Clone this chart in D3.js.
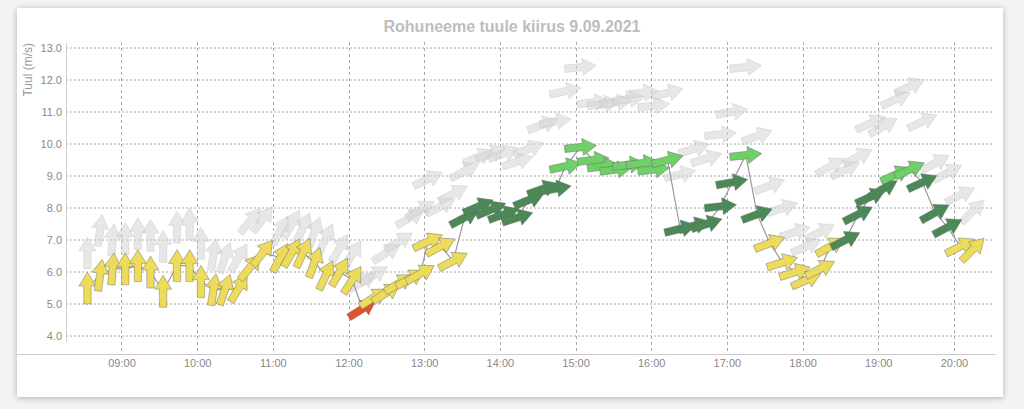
<!DOCTYPE html>
<html>
<head>
<meta charset="utf-8">
<script src="https://d3js.org/d3.v7.min.js"></script>
<style>
  body { margin: 0; background: #f3f3f3; width: 1024px; height: 409px; overflow: hidden; }
  .card { position: absolute; left: 17px; top: 8px; width: 986px; height: 389px; background: #fff;
          box-shadow: 0 1px 6px rgba(0,0,0,0.28); }
  svg { position: absolute; left: 0; top: 0; }
  text { font-family: "Liberation Sans", Arial, sans-serif; }
</style>
</head>
<body>
<div class="card"></div>
<svg id="chart" width="1024" height="409"></svg>
<script>
var times = ["08:33","08:43","08:53","09:03","09:13","09:23","09:33","09:44","09:54","10:03",
  "10:13","10:22","10:33","10:42","10:52","11:06","11:15","11:24","11:33","11:42",
  "11:53","12:03","12:11","12:20","12:30","12:40","12:49","12:57","13:03","13:13",
  "13:23","13:32","13:43","13:53","14:03","14:14","14:23","14:34","14:44","14:52",
  "15:04","15:14","15:22","15:32","15:42","15:53","16:02","16:13","16:23","16:34",
  "16:44","16:55","17:04","17:15","17:24","17:34","17:44","17:54","18:03","18:14",
  "18:22","18:34","18:44","18:54","19:04","19:14","19:25","19:35","19:45","19:55",
  "20:05","20:15"];

// mean wind (m/s)
var windSpeed = [5.5,5.9,6.1,6.1,6.2,6.0,5.4,6.2,6.2,5.7,
  5.45,5.45,5.5,6.15,6.6,6.45,6.6,6.6,6.3,5.9,
  6.0,5.75,4.85,5.2,5.35,5.65,5.8,5.95,6.95,6.8,
  6.35,7.7,8.05,7.95,7.8,7.7,8.25,8.6,8.6,9.3,
  9.9,9.5,9.3,9.2,9.35,9.4,9.2,9.5,7.35,7.45,
  7.5,8.05,8.8,9.65,7.8,6.9,6.3,6.0,5.75,6.1,
  6.8,7.0,7.8,8.35,8.6,9.05,9.2,8.8,7.85,7.4,
  6.8,6.7];

// gusts (m/s)
var gustSpeed = [6.6,7.3,7.0,7.05,7.2,7.15,6.8,7.4,7.5,6.9,
  6.55,6.45,6.45,7.6,7.65,7.3,7.5,7.4,7.25,7.05,
  6.75,6.55,5.7,5.9,6.6,6.95,7.7,7.95,8.9,8.05,
  8.45,9.15,9.6,9.7,9.7,9.45,9.85,10.6,10.7,11.65,
  12.4,11.3,11.25,11.3,11.4,11.6,11.2,11.6,9.05,9.85,
  9.55,10.3,11.0,12.4,10.25,8.7,8.0,7.25,6.8,7.25,
  9.3,9.2,9.6,10.65,10.55,11.4,11.8,10.7,9.4,9.1,
  8.4,7.9];

// heading the arrow points to, degrees clockwise from up
var direction = [0,8,5,0,0,0,0,0,0,0,
  9,19,31,39,38,28,30,25,20,25,
  30,33,58,58,58,58,60,60,65,62,
  62,62,66,67,70,72,68,70,80,78,
  84,83,83,83,83,83,83,75,76,73,
  72,84,80,84,70,69,72,72,66,63,
  60,63,63,66,60,65,65,65,61,62,
  63,45];

var yTicks = [4,5,6,7,8,9,10,11,12,13];

var parseTime = d3.timeParse("%H:%M");
var svg = d3.select("#chart");

var x = d3.scaleTime()
  .domain([parseTime("08:16"), parseTime("20:31")])
  .range([66, 993]);
var y = d3.scaleLinear().domain([4, 13]).range([336, 48]);

// colour of the mean wind arrow by speed
function windColor(v) {
  if (v < 5) return "#e2522f";
  if (v < 7) return "#eddb5c";
  if (v < 9) return "#4b8a56";
  return "#6fcf68";
}

// block arrow pointing up, centred on 0,0
var arrowPath = "M0,-16 L8.5,-2 L3.7,-2 L3.7,16 L-3.7,16 L-3.7,-2 L-8.5,-2 Z";

var data = times.map(function(t, i) {
  return { t: parseTime(t), wind: windSpeed[i], gust: gustSpeed[i], dir: direction[i] };
});

// title
svg.append("text")
  .attr("x", 512).attr("y", 32)
  .attr("text-anchor", "middle")
  .style("font-size", "16px").style("font-weight", "bold")
  .style("fill", "#bdbdbd")
  .text("Rohuneeme tuule kiirus 9.09.2021");

// grid
var grid = svg.append("g");
grid.selectAll(".hgrid").data(yTicks).enter().append("line")
  .attr("x1", 66).attr("x2", 993)
  .attr("y1", function(d) { return y(d); }).attr("y2", function(d) { return y(d); })
  .attr("stroke", "#aaa").attr("stroke-dasharray", "2,2").attr("stroke-width", 1);
grid.selectAll(".vgrid").data(x.ticks(d3.timeHour.every(1))).enter().append("line")
  .attr("x1", function(d) { return Math.round(x(d)) + 0.5; })
  .attr("x2", function(d) { return Math.round(x(d)) + 0.5; })
  .attr("y1", 42).attr("y2", 354)
  .attr("stroke", "#aaa").attr("stroke-dasharray", "3,3").attr("stroke-width", 1);

// gust arrows
svg.append("g").selectAll("path").data(data).enter().append("path")
  .attr("d", arrowPath)
  .attr("transform", function(d) { return "translate(" + x(d.t) + "," + y(d.gust) + ") rotate(" + d.dir + ")"; })
  .attr("fill", "#d4d4d4").attr("fill-opacity", 0.55)
  .attr("stroke", "#bbb").attr("stroke-opacity", 0.4).attr("stroke-width", 0.8);

// line through the wind points
var line = d3.line()
  .x(function(d) { return x(d.t); })
  .y(function(d) { return y(d.wind); });
svg.append("path").datum(data)
  .attr("d", line)
  .attr("fill", "none").attr("stroke", "#999").attr("stroke-width", 1.2);

// wind arrows
svg.append("g").selectAll("path").data(data).enter().append("path")
  .attr("d", arrowPath)
  .attr("transform", function(d) { return "translate(" + x(d.t) + "," + y(d.wind) + ") rotate(" + d.dir + ")"; })
  .attr("fill", function(d) { return windColor(d.wind); })
  .attr("stroke", "#666").attr("stroke-opacity", 0.6).attr("stroke-width", 0.7);

// y axis
var yAxis = svg.append("g").attr("transform", "translate(66,0)")
  .call(d3.axisLeft(y).tickValues(yTicks).tickFormat(d3.format(".1f")).tickSize(0).tickPadding(4));
yAxis.select(".domain").remove();
yAxis.selectAll("text").style("font-size", "11px").style("fill", "#888").style("font-family", "Liberation Sans, Arial, sans-serif");
svg.append("line")
  .attr("x1", 66.5).attr("x2", 66.5).attr("y1", 43).attr("y2", 342)
  .attr("stroke", "#ccc").attr("stroke-width", 1);

svg.append("text")
  .attr("transform", "translate(32,43) rotate(-90)")
  .attr("text-anchor", "end")
  .style("font-size", "12px").style("fill", "#999")
  .text("Tuul (m/s)");

// x axis
var xAxis = svg.append("g").attr("transform", "translate(0,354)")
  .call(d3.axisBottom(x).ticks(d3.timeHour.every(1)).tickFormat(d3.timeFormat("%H:%M")).tickSize(0).tickPadding(5));
xAxis.select(".domain").remove();
xAxis.selectAll("text").style("font-size", "11px").style("fill", "#888").style("font-family", "Liberation Sans, Arial, sans-serif");
svg.append("line")
  .attr("x1", 17).attr("x2", 996).attr("y1", 354.5).attr("y2", 354.5)
  .attr("stroke", "#ccc").attr("stroke-width", 1);
</script>
</body>
</html>
